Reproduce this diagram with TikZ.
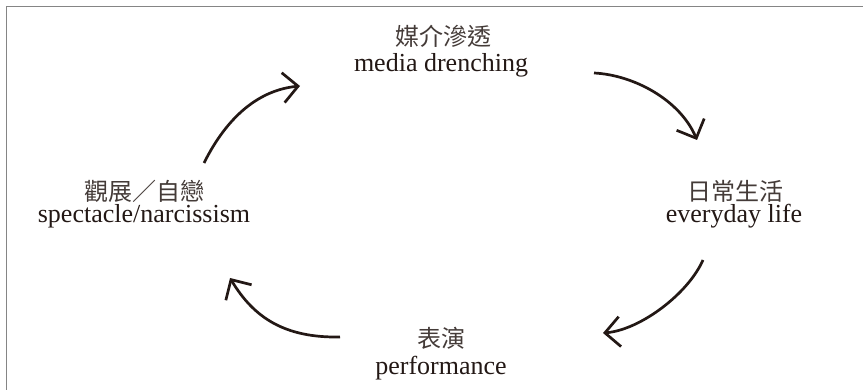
\documentclass[tikz,border=0pt]{standalone}
\usepackage{fontspec}
\setmainfont{Liberation Serif}
\newfontfamily\cjk{Noto Sans CJK TC}
\usetikzlibrary{arrows.meta}
\definecolor{ink}{HTML}{231815}
\definecolor{framegray}{HTML}{858585}
\tikzset{
  en/.style={font=\fontsize{13}{15}\selectfont, text=ink, inner sep=0pt, anchor=base},
  zh/.style={font=\cjk\fontsize{12}{14}\selectfont, text=ink!85, inner sep=0pt},
  cyc/.style={draw=ink, line width=1.35pt, -{Straight Barb[length=7.5pt,width=15pt]}},
  framestyle/.style={draw=framegray, line width=0.65pt}
}
\begin{document}
\begin{tikzpicture}[x=0.5pt,y=0.5pt]
\useasboundingbox (0,0) rectangle (863,390);
% frame (open at right and bottom)
\coordinate (fbl) at (6.5,0);
\coordinate (ftl) at (6.5,383.5);
\coordinate (ftr) at (863,383.5);
\draw[framestyle] (fbl) -- (ftl) -- (ftr);
% labels
\node[zh] (mzh) at (443,354) {媒介滲透};
\node[en] (men) at (441,318) {media drenching};
\node[zh] (ezh) at (735,199) {日常生活};
\node[en] (een) at (734,167) {everyday life};
\node[zh] (szh) at (144,199) {觀展／自戀};
\node[en] (sen) at (144,167) {spectacle/narcissism};
\node[zh] (pzh) at (441,52) {表演};
\node[en] (pen) at (441,15) {performance};
% arrow end points
\coordinate (a1s) at (204,227);
\coordinate (a1e) at (300,304);
\coordinate (a2s) at (594,317);
\coordinate (a2e) at (697,250);
\coordinate (a3s) at (703,130);
\coordinate (a3e) at (603,57);
\coordinate (a4s) at (340,53);
\coordinate (a4e) at (230,112);
% cycle arrows
\draw[cyc] (a1s) .. controls (228,275) and (260,300) .. (a1e);
\draw[cyc] (a2s) .. controls (634,315) and (680,290) .. (a2e);
\draw[cyc] (a3s) .. controls (688,96) and (640,60) .. (a3e);
\draw[cyc] (a4s) .. controls (285,52) and (254,72) .. (a4e);
\end{tikzpicture}
\end{document}
